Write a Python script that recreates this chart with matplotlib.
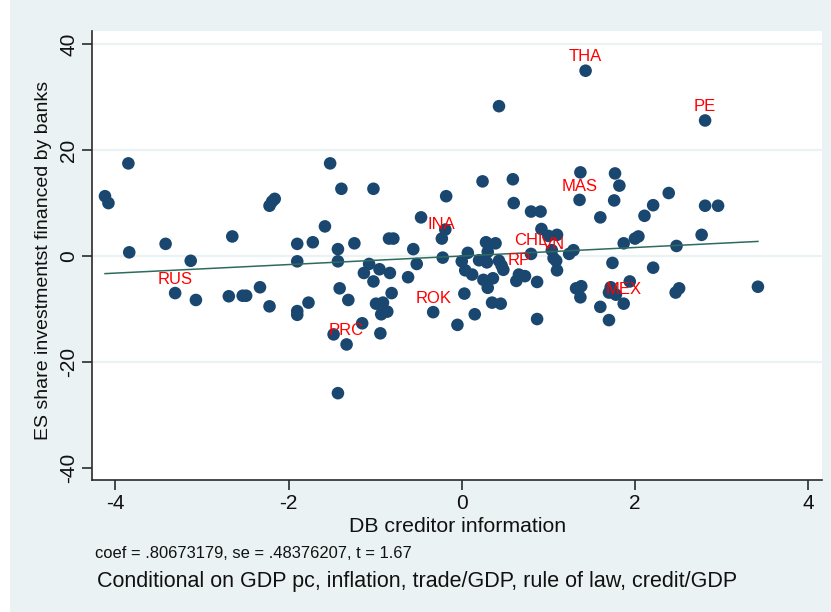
import matplotlib
matplotlib.use("Agg")
import matplotlib.pyplot as plt
from matplotlib.patches import Rectangle

# Added-variable plot: residualised bank share of investment vs creditor information
label_names = ["THA", "PE", "MAS", "INA", "CHL", "VN", "RP", "RUS", "ROK", "PRC", "MEX"]
label_x = [1.43, 2.81, 1.36, -0.23, 0.80, 1.06, 0.66, -3.31, -0.33, -1.33, 1.87]
label_y = [35.0, 25.6, 10.6, 3.3, 0.4, -0.4, -3.5, -7.0, -10.6, -16.7, -9.0]

other_x = [-4.12, -4.08, -3.85, -3.84, -3.42, -3.13, -3.07, -2.65, -2.69, -2.53,
           -2.49, -2.33, -2.22, -2.22, -2.16, -2.19, -1.90, -1.90, -1.90, -1.90,
           -1.77, -1.72, -1.58, -1.52, -1.43, -1.43, -1.39, -1.41, -1.31, -1.48,
           -1.43, -1.24, -1.02, -1.07, -1.15, -1.13, -1.02, -0.95, -0.99, -0.91,
           -0.93, -0.86, -0.94, -0.84, -0.79, -0.83, -0.81, -0.62, -0.56, -0.52,
           -0.47, -0.19, -0.18, -0.22, -0.05, 0.00, 0.07, 0.04, 0.12, 0.03,
           0.15, 0.20, 0.29, 0.28, 0.39, 0.30, 0.43, 0.46, 0.48, 0.25,
           0.36, 0.30, 0.35, 0.45, 0.24, 0.43, 0.59, 0.60, 0.80, 0.91,
           0.92, 1.00, 1.10, 1.04, 1.09, 1.10, 1.24, 1.29, 0.73, 0.63,
           0.87, 0.87, 1.32, 1.38, 1.37, 1.37, 1.77, 1.82, 1.76, 1.60,
           2.11, 2.21, 2.39, 2.81, 2.96, 1.87, 2.00, 2.04, 2.77, 2.48,
           1.74, 2.21, 1.94, 1.72, 1.70, 1.78, 2.47, 2.51, 1.60, 1.70,
           3.42]
other_y = [11.3, 10.0, 17.5, 0.7, 2.3, -0.9, -8.3, 3.7, -7.6, -7.5,
           -7.5, -5.9, -9.5, 9.5, 10.8, 10.3, 2.3, -1.0, -10.4, -11.1,
           -8.8, 2.6, 5.6, 17.5, 1.3, -1.0, 12.7, -6.1, -8.3, -14.8,
           -25.9, 2.4, 12.7, -1.5, -12.7, -3.2, -4.8, -2.5, -9.0, -8.8,
           -11.0, -10.5, -14.6, 3.3, 3.3, -3.2, -7.0, -4.0, 1.3, -1.5,
           7.3, 5.0, 11.3, -0.3, -13.0, -1.0, 0.6, -2.7, -3.5, -7.1,
           -11.0, -0.8, -1.2, 2.6, 2.4, 0.8, -0.9, -1.8, -2.6, -4.5,
           -4.2, -6.0, -8.8, -9.0, 14.1, 28.3, 14.5, 10.0, 8.4, 8.4,
           5.1, 3.8, 4.0, 1.1, -0.9, -2.7, 0.4, 1.1, -3.8, -4.7,
           -4.9, -11.9, -6.1, -5.7, -7.8, 15.8, 15.6, 13.3, 10.5, 7.3,
           7.6, 9.6, 11.9, 9.5, 9.5, 2.4, 3.3, 3.7, 4.0, 1.9,
           -1.3, -2.2, -4.8, -5.9, -6.9, -7.3, -6.9, -6.1, -9.6, -12.1,
           -5.8]

coef = 0.80673179
intercept = 0.0

x_ticks = [-4, -2, 0, 2, 4]
y_ticks = [-40, -20, 0, 20, 40]
grid_vals = [-20, 0, 20, 40]

x_title = "DB creditor information"
y_title = "ES share investmentst financed by banks"
note1 = "coef = .80673179, se = .48376207, t = 1.67"
note2 = "Conditional on GDP pc, inflation, trade/GDP, rule of law, credit/GDP"

W, H = 831, 612
bg = "#eaf2f3"
navy = "#1a476f"
fit_col = "#2e6b5e"
font = ["Liberation Sans", "DejaVu Sans"]

fig = plt.figure(figsize=(W / 100, H / 100), dpi=100)
fig.patch.set_facecolor("white")
fig.patches.append(Rectangle((10 / W, 0.0), 1 - 10 / W, 1.0,
                             transform=fig.transFigure, facecolor=bg,
                             edgecolor="none", zorder=-5))

def fx(px):
    return px / W

def fy(py):
    return 1 - py / H

ax = fig.add_axes([fx(92), fy(480), fx(822) - fx(92), (480 - 31) / H])
ax.set_zorder(2)
ax.set_facecolor("white")
ax.set_xlim(-4.27, 4.16)
ax.set_ylim(-42.3, 42.5)

for g in grid_vals:
    ax.axhline(g, color=bg, lw=1.6, zorder=1)

all_x = other_x + label_x
all_y = other_y + label_y
ax.scatter(all_x, all_y, s=82, color=navy, edgecolors="none", zorder=3)

lo, hi = min(all_x), max(all_x)
ax.plot([lo, hi], [intercept + coef * lo, intercept + coef * hi],
        color=fit_col, lw=1.1, zorder=4)

for name, px_, py_ in zip(label_names, label_x, label_y):
    ax.annotate(name, (px_, py_), xytext=(0, 10), textcoords="offset points",
                ha="center", va="center", color="#ff0000", fontsize=12,
                family=font, zorder=5)

for side in ["top", "right"]:
    ax.spines[side].set_visible(False)
for side in ["left", "bottom"]:
    ax.spines[side].set_color("#2b2b2b")
    ax.spines[side].set_linewidth(1.2)

ax.set_xticks(x_ticks)
ax.set_xticklabels([str(v) for v in x_ticks], family=font, fontsize=15)
ax.set_yticks(y_ticks)
ax.set_yticklabels([str(v) for v in y_ticks], family=font, fontsize=15,
                   rotation=90, va="center")
ax.tick_params(axis="both", direction="out", length=7, width=1.2,
               color="#2b2b2b", labelcolor="#111111")
ax.tick_params(axis="x", pad=3)
ax.tick_params(axis="y", pad=3)

fig.text(fx(458), fy(526), x_title, ha="center", va="center",
         family=font, fontsize=15.3, color="#111111")
fig.text(fx(44), fy(260), y_title, ha="center", va="center", rotation=90,
         family=font, fontsize=14, color="#111111")
fig.text(fx(95), fy(553), note1, ha="left", va="center",
         family=font, fontsize=11.9, color="#111111")
fig.text(fx(97), fy(581), note2, ha="left", va="center",
         family=font, fontsize=15.5, color="#111111")

fig.savefig("out.png", dpi=100, facecolor=fig.get_facecolor())
